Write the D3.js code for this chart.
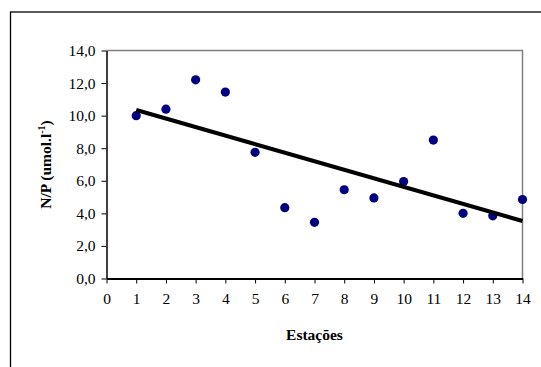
<!DOCTYPE html>
<html>
<head>
<meta charset="utf-8">
<script src="https://cdn.jsdelivr.net/npm/d3@7"></script>
<style>
html, body { margin: 0; padding: 0; background: #fff; }
svg { display: block; }
svg text { font-family: "Liberation Serif", "Times New Roman", Times, "DejaVu Serif", serif; }
</style>
</head>
<body>
<svg id="chart" width="541" height="367"></svg>
<script>
// Data
const estacoes = [1, 2, 3, 4, 5, 6, 7, 8, 9, 10, 11, 12, 13, 14];
const npValues = [10.0, 10.4, 12.2, 11.45, 7.75, 4.35, 3.45, 5.45, 4.95, 5.95, 8.5, 4.0, 3.85, 4.85];
const xTicks = [0, 1, 2, 3, 4, 5, 6, 7, 8, 9, 10, 11, 12, 13, 14];
const yTicks = [0, 2, 4, 6, 8, 10, 12, 14];
const yTickLabels = ["0,0", "2,0", "4,0", "6,0", "8,0", "10,0", "12,0", "14,0"];

const svg = d3.select("#chart");
const font = '"Liberation Serif", "Times New Roman", Times, serif';

const L = 106.5, R = 522.5, T = 50.5, B = 278.5;
const x = d3.scaleLinear().domain([0, 14]).range([L, R]);
const y = d3.scaleLinear().domain([0, 14]).range([B, T]);

// Outer chart border
svg.append("rect")
  .attr("x", 10.5).attr("y", 12).attr("width", 560).attr("height", 400)
  .attr("fill", "none").attr("stroke", "#000").attr("stroke-width", 1.3);

// Plot frame top & right (gray)
svg.append("path")
  .attr("d", `M${L},${T}H${R}V${B}`)
  .attr("fill", "none").attr("stroke", "#808080").attr("stroke-width", 1.5);

// Y axis
const yAxis = d3.axisLeft(y).tickValues(yTicks).tickSize(5).tickSizeOuter(0)
  .tickFormat((d, i) => yTickLabels[i]);
const gy = svg.append("g").attr("transform", `translate(${L},0)`).call(yAxis);
gy.attr("font-family", null).attr("font-size", null);
gy.select(".domain").attr("stroke", "#000").attr("stroke-width", 1.5);
gy.selectAll(".tick line").attr("stroke", "#000");
gy.selectAll(".tick text").style("font-family", font).style("font-size", "15.5px")
  .attr("fill", "#000").attr("x", -11);

// X axis
const xAxis = d3.axisBottom(x).tickValues(xTicks).tickSize(5).tickSizeOuter(0)
  .tickFormat(d3.format("d"));
const gx = svg.append("g").attr("transform", `translate(0,${B})`).call(xAxis);
gx.attr("font-family", null).attr("font-size", null);
gx.select(".domain").attr("stroke", "#000").attr("stroke-width", 2);
gx.selectAll(".tick line").attr("stroke", "#000");
gx.selectAll(".tick text").style("font-family", font).style("font-size", "15.5px")
  .attr("fill", "#000").attr("y", 14);

// Linear trendline (least squares from data)
const n = estacoes.length;
const mx = d3.mean(estacoes), my = d3.mean(npValues);
let sxy = 0, sxx = 0;
for (let i = 0; i < n; i++) {
  sxy += (estacoes[i] - mx) * (npValues[i] - my);
  sxx += (estacoes[i] - mx) ** 2;
}
const slope = sxy / sxx, icpt = my - slope * mx;
const x0 = d3.min(estacoes), x1 = d3.max(estacoes);

// Points
svg.append("g").selectAll("circle")
  .data(estacoes.map((e, i) => [e, npValues[i]]))
  .join("circle")
  .attr("cx", d => x(d[0])).attr("cy", d => y(d[1]))
  .attr("r", 4.6).attr("fill", "#000080");

svg.append("line")
  .attr("x1", x(x0)).attr("y1", y(icpt + slope * x0))
  .attr("x2", x(x1)).attr("y2", y(icpt + slope * x1))
  .attr("stroke", "#000").attr("stroke-width", 4);

// Axis titles
svg.append("text")
  .attr("x", (L + R) / 2).attr("y", 340)
  .attr("text-anchor", "middle")
  .style("font-family", font).style("font-size", "15.5px").style("font-weight", "bold")
  .text("Estações");

const yt = svg.append("text")
  .attr("transform", `translate(51,${(T + B) / 2}) rotate(-90)`)
  .attr("text-anchor", "middle")
  .style("font-family", font).style("font-size", "15.5px").style("font-weight", "bold");
yt.append("tspan").text("N/P (umol.l");
yt.append("tspan").style("font-size", "10px").attr("dy", -6).text("-1");
yt.append("tspan").attr("dy", 6).text(")");
</script>
</body>
</html>
